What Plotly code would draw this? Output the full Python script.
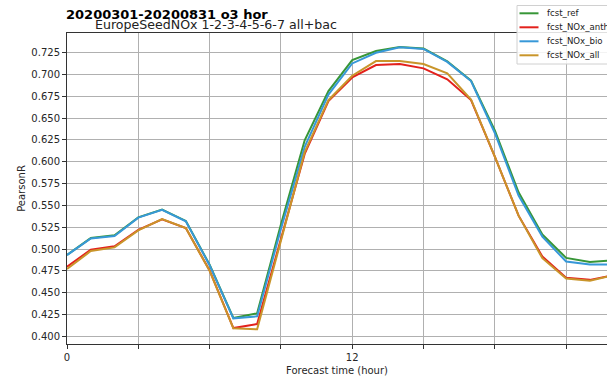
import plotly.graph_objects as go

hours = list(range(24))
fcst_ref = [0.4933, 0.5126, 0.5157, 0.5363, 0.5453, 0.5322, 0.4820, 0.4210, 0.4263, 0.5280, 0.6247, 0.6810,
            0.7166, 0.7269, 0.7315, 0.7298, 0.7150, 0.6930, 0.6360, 0.5650, 0.5166, 0.4899, 0.4853, 0.4873]
fcst_NOx_anth = [0.4798, 0.4992, 0.5031, 0.5221, 0.5340, 0.5240, 0.4755, 0.4095, 0.4141, 0.5120, 0.6090, 0.6695,
                 0.6967, 0.7108, 0.7121, 0.7071, 0.6946, 0.6707, 0.6060, 0.5383, 0.4914, 0.4670, 0.4647, 0.4700]
fcst_NOx_bio = [0.4931, 0.5122, 0.5149, 0.5360, 0.5450, 0.5318, 0.4815, 0.4206, 0.4229, 0.5230, 0.6170, 0.6770,
                0.7127, 0.7250, 0.7312, 0.7294, 0.7145, 0.6925, 0.6330, 0.5613, 0.5143, 0.4857, 0.4823, 0.4823]
fcst_NOx_all = [0.4771, 0.4977, 0.5019, 0.5214, 0.5344, 0.5240, 0.4750, 0.4092, 0.4080, 0.5100, 0.6110, 0.6706,
                0.6986, 0.7154, 0.7155, 0.7121, 0.7014, 0.6714, 0.6060, 0.5383, 0.4895, 0.4662, 0.4636, 0.4700]

series_names = ["fcst_ref", "fcst_NOx_anth", "fcst_NOx_bio", "fcst_NOx_all"]
series_vals = [fcst_ref, fcst_NOx_anth, fcst_NOx_bio, fcst_NOx_all]
colors = ["#379637", "#e3211c", "#3798d8", "#c9952a"]

x_tickvals = [0, 3, 6, 9, 12, 15, 18, 21]
x_ticktext = ["0", "", "", "", "12", "", "", ""]
y_tickvals = [0.400 + 0.025 * i for i in range(14)]
y_ticktext = ["%.3f" % v for v in y_tickvals]

W, H = 607, 379
L, R, T, B = 67, 0, 33, 35
PW, PH = W - L - R, H - T - B

def px(x):
    return (x - L) / PW

def py(y):
    return (H - B - y) / PH

FONT = "DejaVu Sans"

fig = go.Figure()
for name, vals, c in zip(series_names, series_vals, colors):
    fig.add_trace(go.Scatter(x=hours, y=vals, mode="lines", name=name,
                             line=dict(color=c, width=2), showlegend=False))

fig.update_layout(
    width=W, height=H,
    margin=dict(l=L, r=R, t=T, b=B),
    paper_bgcolor="white", plot_bgcolor="white",
    font=dict(family=FONT, size=10, color="#262626"),
    xaxis=dict(range=[0, 22.72], tickvals=x_tickvals, ticktext=x_ticktext,
               showgrid=True, gridcolor="#b0b0b0", gridwidth=1,
               showline=True, linecolor="#333333", linewidth=1, mirror=True,
               ticks="outside", ticklen=4, tickcolor="#333333",
               zeroline=False,
               title=dict(text="Forecast time (hour)", font=dict(size=10, family=FONT), standoff=4)),
    yaxis=dict(range=[0.3912, 0.7476], tickvals=y_tickvals, ticktext=y_ticktext,
               showgrid=True, gridcolor="#b0b0b0", gridwidth=1,
               showline=True, linecolor="#333333", linewidth=1,
               ticks="outside", ticklen=4, tickcolor="#333333",
               zeroline=False,
               title=dict(text="PearsonR", font=dict(size=10, family=FONT), standoff=3)),
)

# titles
fig.add_annotation(text="<b>20200301-20200831 o3 hor</b>", xref="paper", yref="paper",
                   x=px(64), y=py(14.5), xanchor="left", yanchor="middle", showarrow=False,
                   font=dict(size=13, family=FONT, color="black"))
fig.add_annotation(text="EuropeSeedNOx 1-2-3-4-5-6-7 all+bac", xref="paper", yref="paper",
                   x=px(93), y=py(24.5), xanchor="left", yanchor="middle", showarrow=False,
                   font=dict(size=12.6, family=FONT, color="#222222"))

# legend box
fig.add_shape(type="rect", xref="paper", yref="paper", x0=px(517), x1=px(640), y0=py(64), y1=py(5.5),
              line=dict(color="#d0d0d0", width=1), fillcolor="rgba(255,255,255,0.85)", layer="above")
for i, (name, c) in enumerate(zip(series_names, colors)):
    yc = 13.3 + 14 * i
    fig.add_shape(type="line", xref="paper", yref="paper", x0=px(519.5), x1=px(538.5), y0=py(yc), y1=py(yc),
                  line=dict(color=c, width=2), layer="above")
    fig.add_annotation(text=name, xref="paper", yref="paper", x=px(545), y=py(yc),
                       xanchor="left", yanchor="middle", showarrow=False,
                       font=dict(size=8.6, family=FONT, color="#222222"))

fig.write_html("out.html")
